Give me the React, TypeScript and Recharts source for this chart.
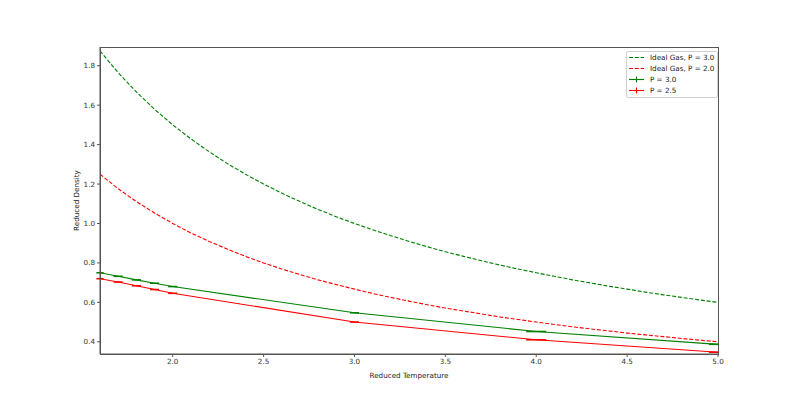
import React from "react";
import {
  ComposedChart,
  Line,
  Scatter,
  ErrorBar,
  XAxis,
  YAxis,
} from "recharts";

const GREEN = "#008000";
const RED = "#ff0000";
const FONT = "DejaVu Sans, sans-serif";
const FS = 7.2;
const LW = 1.1;
const DASH = "4 1.8";

// temperature grid for the ideal-gas curves
const idealT = [
  1.6, 1.7, 1.8, 1.9, 2.0, 2.1, 2.2, 2.3, 2.4, 2.5, 2.6, 2.7, 2.8, 2.9, 3.0, 3.1, 3.2, 3.3,
  3.4, 3.5, 3.6, 3.7, 3.8, 3.9, 4.0, 4.1, 4.2, 4.3, 4.4, 4.5, 4.6, 4.7, 4.8, 4.9, 5.0,
];
const idealP3 = [
  1.875, 1.765, 1.667, 1.579, 1.5, 1.429, 1.364, 1.304, 1.25, 1.2, 1.154, 1.111, 1.071, 1.034,
  1.0, 0.968, 0.938, 0.909, 0.882, 0.857, 0.833, 0.811, 0.789, 0.769, 0.75, 0.732, 0.714, 0.698,
  0.682, 0.667, 0.652, 0.638, 0.625, 0.612, 0.6,
];
const idealP2 = [
  1.25, 1.176, 1.111, 1.053, 1.0, 0.952, 0.909, 0.87, 0.833, 0.8, 0.769, 0.741, 0.714, 0.69,
  0.667, 0.645, 0.625, 0.606, 0.588, 0.571, 0.556, 0.541, 0.526, 0.513, 0.5, 0.488, 0.476, 0.465,
  0.455, 0.444, 0.435, 0.426, 0.417, 0.408, 0.4,
];

// simulation results
const simT = [1.6, 1.7, 1.8, 1.9, 2.0, 3.0, 4.0, 5.0];
const simP3 = [0.75, 0.732, 0.714, 0.697, 0.68, 0.547, 0.452, 0.387];
const simP25 = [0.72, 0.703, 0.684, 0.665, 0.646, 0.5, 0.41, 0.347];
const simTErr = [0.02, 0.025, 0.025, 0.025, 0.025, 0.025, 0.055, 0.05];

const xDomain = [1.6, 5.0];
const yDomain = [0.338, 1.895];
const xTicks = [2.0, 2.5, 3.0, 3.5, 4.0, 4.5, 5.0];
const yTicks = [0.4, 0.6, 0.8, 1.0, 1.2, 1.4, 1.6, 1.8];

const ideal3Data = idealT.map((t, i) => ({ t, rho: idealP3[i] }));
const ideal2Data = idealT.map((t, i) => ({ t, rho: idealP2[i] }));
const sim3Data = simT.map((t, i) => ({ t, rho: simP3[i], et: simTErr[i] }));
const sim25Data = simT.map((t, i) => ({ t, rho: simP25[i], et: simTErr[i] }));

const legendItems = [
  { label: "Ideal Gas, P = 3.0", color: GREEN, dashed: true },
  { label: "Ideal Gas, P = 2.0", color: RED, dashed: true },
  { label: "P = 3.0", color: GREEN, dashed: false },
  { label: "P = 2.5", color: RED, dashed: false },
];

function LegendBox() {
  return (
    <div
      style={{
        position: "absolute",
        left: 626,
        top: 51,
        width: 89,
        border: "1px solid #d0d0d0",
        borderRadius: 2,
        background: "#fff",
        padding: "0 0 1px 1px",
        fontFamily: FONT,
        fontSize: FS,
        color: "#222",
      }}
    >
      {legendItems.map((it) => (
        <div key={it.label} style={{ display: "flex", alignItems: "center", height: 11 }}>
          <svg width={17} height={9} style={{ marginRight: 5 }}>
            <line
              x1={1}
              x2={16}
              y1={4.5}
              y2={4.5}
              stroke={it.color}
              strokeWidth={LW}
              strokeDasharray={it.dashed ? DASH : undefined}
            />
            {!it.dashed && (
              <line x1={8.5} x2={8.5} y1={1.5} y2={7.5} stroke={it.color} strokeWidth={LW} />
            )}
          </svg>
          <span>{it.label}</span>
        </div>
      ))}
    </div>
  );
}

const tickStyle = { fontFamily: FONT, fontSize: FS, fill: "#333" };
const axisLine = { stroke: "#555", strokeWidth: 1 };

export default function App() {
  return (
    <div style={{ position: "absolute", left: 0, top: 0, width: 800, height: 399, background: "#fff" }}>
      <ComposedChart width={800} height={399} margin={{ top: 47, right: 82, bottom: 15, left: 40 }}>
        <XAxis
          xAxisId="main"
          type="number"
          dataKey="t"
          domain={xDomain}
          ticks={xTicks}
          tickFormatter={(v: number) => v.toFixed(1)}
          allowDataOverflow
          height={30}
          tick={tickStyle}
          axisLine={axisLine}
          tickLine={{ stroke: "#555" }}
          tickSize={3}
          tickMargin={2}
          label={{
            value: "Reduced Temperature",
            position: "insideBottom",
            offset: 6,
            style: { fontFamily: FONT, fontSize: FS, fill: "#222" },
          }}
        />
        <YAxis
          yAxisId="main"
          type="number"
          domain={yDomain}
          ticks={yTicks}
          allowDataOverflow
          tickFormatter={(v: number) => v.toFixed(1)}
          width={60}
          tick={tickStyle}
          axisLine={axisLine}
          tickLine={{ stroke: "#555" }}
          tickSize={3}
          tickMargin={2}
          label={{
            value: "Reduced Density",
            angle: -90,
            position: "insideLeft",
            offset: 36,
            style: { fontFamily: FONT, fontSize: FS, fill: "#222", textAnchor: "middle" },
          }}
        />
        <Line
          xAxisId="main"
          yAxisId="main"
          data={ideal3Data}
          dataKey="rho"
          stroke={GREEN}
          strokeWidth={LW}
          strokeDasharray={DASH}
          dot={false}
          type="linear"
          isAnimationActive={false}
        />
        <Line
          xAxisId="main"
          yAxisId="main"
          data={ideal2Data}
          dataKey="rho"
          stroke={RED}
          strokeWidth={LW}
          strokeDasharray={DASH}
          dot={false}
          type="linear"
          isAnimationActive={false}
        />
        <Line
          xAxisId="main"
          yAxisId="main"
          data={sim3Data}
          dataKey="rho"
          stroke={GREEN}
          strokeWidth={LW}
          dot={false}
          type="linear"
          isAnimationActive={false}
        />
        <Line
          xAxisId="main"
          yAxisId="main"
          data={sim25Data}
          dataKey="rho"
          stroke={RED}
          strokeWidth={LW}
          dot={false}
          type="linear"
          isAnimationActive={false}
        />
        <Scatter
          xAxisId="main"
          yAxisId="main"
          data={sim3Data}
          dataKey="rho"
          shape={() => <g />}
          isAnimationActive={false}
        >
          <ErrorBar dataKey="et" direction="x" width={0} stroke={GREEN} strokeWidth={1.6} isAnimationActive={false} />
        </Scatter>
        <Scatter
          xAxisId="main"
          yAxisId="main"
          data={sim25Data}
          dataKey="rho"
          shape={() => <g />}
          isAnimationActive={false}
        >
          <ErrorBar dataKey="et" direction="x" width={0} stroke={RED} strokeWidth={1.6} isAnimationActive={false} />
        </Scatter>
      </ComposedChart>
      {/* hide error bar overflow past the right spine */}
      <div style={{ position: "absolute", left: 718, top: 40, width: 14, height: 314, background: "#fff" }} />
      <svg width={800} height={399} style={{ position: "absolute", left: 0, top: 0, pointerEvents: "none" }}>
        <rect x={100.5} y={47.5} width={618} height={307} fill="none" stroke="#555" strokeWidth={1} />
      </svg>
      <LegendBox />
    </div>
  );
}
